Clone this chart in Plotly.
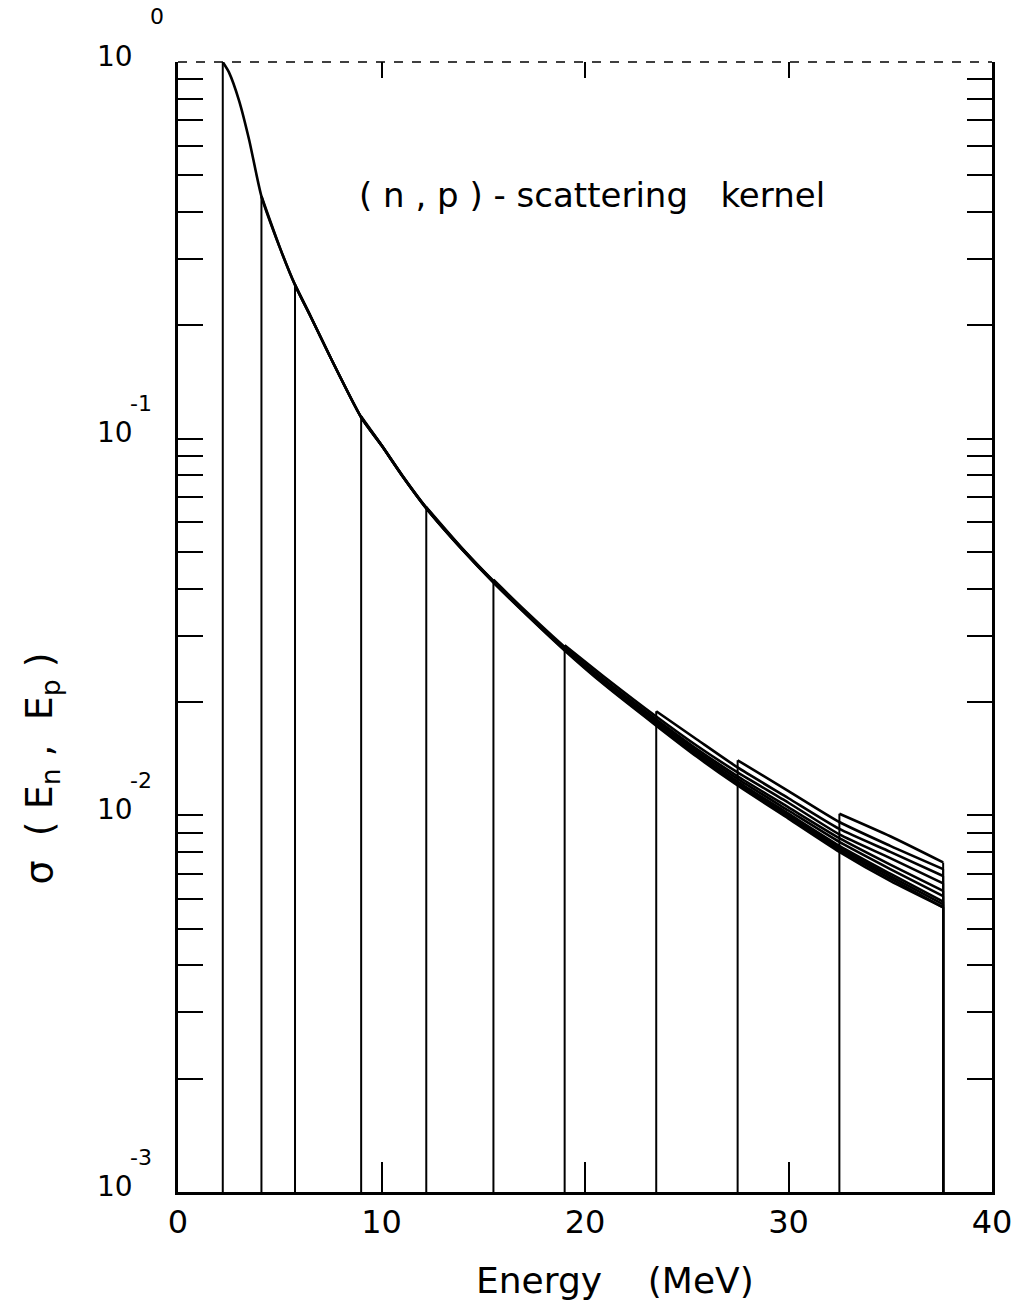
import plotly.graph_objects as go

# ---------------- data ----------------
energy_grid = [2.2, 2.5, 3.0, 3.5, 4.1, 5.0, 5.75, 6.5, 7.5, 9.0, 10.0, 11.0, 12.2,
               14.0, 15.5, 17.0, 19.0, 21.0, 23.5, 25.5, 27.5, 30.0, 32.5, 35.0, 37.6]

start_energies = [2.2, 4.1, 5.75, 9.0, 12.2, 15.5, 19.0, 23.5, 27.5, 32.5]

kernel_2_2 = [1.0, 0.94, 0.79, 0.62, 0.44, 0.322, 0.256, 0.212, 0.164, 0.114, 0.096, 0.080, 0.0653,
              0.0505, 0.0415, 0.0346, 0.0274, 0.0221, 0.0173, 0.0143, 0.0120, 0.0098, 0.0080, 0.0067, 0.0057]
kernel_4_1 = [0.44, 0.322, 0.256, 0.212, 0.164, 0.114, 0.096, 0.080, 0.0654, 0.0506, 0.0416, 0.0347,
              0.0275, 0.0222, 0.0174, 0.0144, 0.0121, 0.0099, 0.0081, 0.0068, 0.0057]
kernel_5_75 = [0.256, 0.212, 0.164, 0.114, 0.096, 0.080, 0.0655, 0.0507, 0.0417, 0.0348, 0.0276,
               0.0223, 0.0175, 0.0145, 0.0122, 0.0100, 0.0082, 0.0069, 0.0058]
kernel_9_0 = [0.1145, 0.0962, 0.0802, 0.0656, 0.0508, 0.0418, 0.0349, 0.0277, 0.0224, 0.0176,
              0.0146, 0.0123, 0.0101, 0.0083, 0.0070, 0.0059]
kernel_12_2 = [0.0658, 0.0509, 0.0419, 0.0350, 0.0278, 0.0226, 0.0178, 0.0148, 0.0125, 0.0103,
               0.0085, 0.0072, 0.0061]
kernel_15_5 = [0.0422, 0.0352, 0.0280, 0.0228, 0.0180, 0.0150, 0.0127, 0.0105, 0.0087, 0.0074, 0.0063]
kernel_19_0 = [0.0283, 0.0232, 0.0183, 0.0153, 0.0130, 0.0108, 0.0089, 0.0077, 0.0066]
kernel_23_5 = [0.0189, 0.0159, 0.0134, 0.0111, 0.0092, 0.0080, 0.0069]
kernel_27_5 = [0.0140, 0.0116, 0.0096, 0.0083, 0.0072]
kernel_32_5 = [0.0101, 0.0088, 0.0075]

kernels = [kernel_2_2, kernel_4_1, kernel_5_75, kernel_9_0, kernel_12_2,
           kernel_15_5, kernel_19_0, kernel_23_5, kernel_27_5, kernel_32_5]

x_tick_vals = [0, 10, 20, 30, 40]
x_tick_text = ["0", "10", "20", "30", "40"]
y_decade_exp = [-3, -2, -1, 0]
y_exponents = ["-3", "-2", "-1", "0"]

Y_FLOOR = 1e-3

# ---------------- figure ----------------
fig = go.Figure()
FONT = "DejaVu Sans"
LINE = dict(color="black", width=2)

for e0, vals in zip(start_energies, kernels):
    i0 = energy_grid.index(e0)
    xs = energy_grid[i0:i0 + len(vals)]
    # left vertical edge of this kernel
    fig.add_trace(go.Scatter(x=[xs[0], xs[0]], y=[Y_FLOOR, vals[0]], mode="lines",
                             line=LINE, showlegend=False, hoverinfo="skip"))
    # the kernel curve itself (smoothed)
    fig.add_trace(go.Scatter(x=xs, y=vals, mode="lines",
                             line=dict(color="black", width=2.6, shape="spline", smoothing=0.6),
                             showlegend=False, hoverinfo="skip"))
    # right vertical edge
    fig.add_trace(go.Scatter(x=[xs[-1], xs[-1]], y=[vals[-1], Y_FLOOR], mode="lines",
                             line=LINE, showlegend=False, hoverinfo="skip"))

# invisible trace for the top x-axis
fig.add_trace(go.Scatter(x=[0, 40], y=[1e-3, 1e-3], xaxis="x2", mode="lines",
                         line=dict(width=0), showlegend=False, hoverinfo="skip"))

minor_vals = [k * 10 ** d for d in (-3, -2, -1) for k in range(2, 10)]

fig.update_layout(
    width=1024, height=1307,
    margin=dict(l=178, r=30, t=62, b=115),
    paper_bgcolor="white", plot_bgcolor="white",
    font=dict(family=FONT, color="black"),
    xaxis=dict(range=[0, 40], showgrid=False, zeroline=False,
               showline=True, linewidth=3, linecolor="black", mirror=False,
               ticks="inside", ticklen=30, tickwidth=2, tickcolor="black",
               tickvals=x_tick_vals, ticktext=x_tick_text,
               tickfont=dict(size=32, family=FONT)),
    xaxis2=dict(range=[0, 40], overlaying="x", side="top", anchor="y",
                showgrid=False, zeroline=False, showline=False,
                ticks="inside", ticklen=16, tickwidth=2, tickcolor="black",
                tickvals=[10, 20, 30], showticklabels=False),
    yaxis=dict(type="log", range=[-3, 0], showgrid=False, zeroline=False,
               showline=True, linewidth=3, linecolor="black", mirror="allticks",
               ticks="inside", ticklen=25, tickwidth=2, tickcolor="black",
               tickvals=[10 ** e for e in y_decade_exp], showticklabels=False,
               minor=dict(ticks="inside", ticklen=12, tickwidth=2, tickcolor="black",
                          tickvals=minor_vals, showgrid=False)),
)

# dashed top border
fig.add_shape(type="line", xref="paper", yref="paper", x0=0, x1=1, y0=1, y1=1,
              line=dict(color="black", width=1.5, dash="dash"))

# y tick labels: "10" with raised exponent (annotation y on log axis = exponent)
for e, ex in zip(y_decade_exp, y_exponents):
    fig.add_annotation(x=0, xref="paper", y=e, yref="y", text="10", showarrow=False,
                       xanchor="right", yanchor="middle", xshift=-43, yshift=6,
                       font=dict(size=28, family=FONT))
    if ex == "0":
        fig.add_annotation(x=0, xref="paper", y=e, yref="y", text=ex, showarrow=False,
                           xanchor="left", yanchor="middle", xshift=-30, yshift=46,
                           font=dict(size=22, family=FONT))
    else:
        fig.add_annotation(x=0, xref="paper", y=e, yref="y", text=ex, showarrow=False,
                           xanchor="left", yanchor="middle", xshift=-50, yshift=35,
                           font=dict(size=22, family=FONT))

fig.add_annotation(x=0.22, xref="paper", y=0.882, yref="paper",
                   text="( n , p ) - scattering   kernel", showarrow=False,
                   xanchor="left", yanchor="middle", font=dict(size=34, family=FONT))

fig.add_annotation(x=0.537, xref="paper", y=-0.078, yref="paper",
                   text="Energy    (MeV)", showarrow=False,
                   xanchor="center", yanchor="middle", font=dict(size=36, family=FONT))

fig.add_annotation(x=-0.168, xref="paper", y=0.375, yref="paper",
                   text="σ  ( E<sub>n</sub> ,  E<sub>p</sub> )", showarrow=False, textangle=-90,
                   xanchor="center", yanchor="middle", font=dict(size=38, family=FONT))

fig.write_html("out.html")
